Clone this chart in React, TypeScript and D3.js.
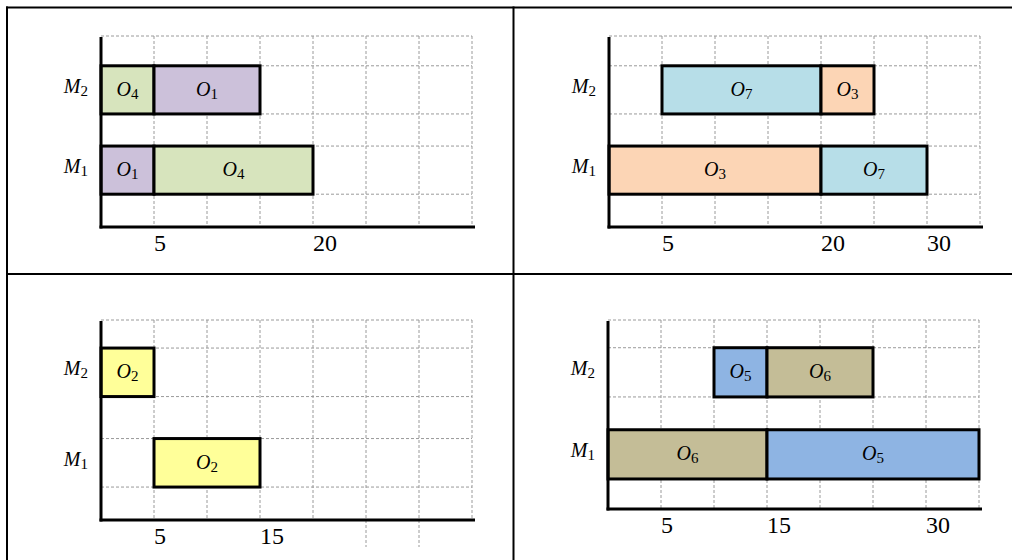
import React from "react";
import * as d3 from "d3";

// schedules, one per cell of the table
const machines = ["M2", "M1"];

const panel1Ops = [
  { machine: "M2", op: 4, start: 0, end: 5 },
  { machine: "M2", op: 1, start: 5, end: 15 },
  { machine: "M1", op: 1, start: 0, end: 5 },
  { machine: "M1", op: 4, start: 5, end: 20 },
];
const panel1Ticks = [5, 20];

const panel2Ops = [
  { machine: "M2", op: 7, start: 5, end: 20 },
  { machine: "M2", op: 3, start: 20, end: 25 },
  { machine: "M1", op: 3, start: 0, end: 20 },
  { machine: "M1", op: 7, start: 20, end: 30 },
];
const panel2Ticks = [5, 20, 30];

const panel3Ops = [
  { machine: "M2", op: 2, start: 0, end: 5 },
  { machine: "M1", op: 2, start: 5, end: 15 },
];
const panel3Ticks = [5, 15];
const panel3LongGrid = [25, 30];

const panel4Ops = [
  { machine: "M2", op: 5, start: 10, end: 15 },
  { machine: "M2", op: 6, start: 15, end: 25 },
  { machine: "M1", op: 6, start: 0, end: 15 },
  { machine: "M1", op: 5, start: 15, end: 35 },
];
const panel4Ticks = [5, 15, 30];

const timeDomain = [0, 35];

const opColors = {
  1: "#CCC1DA",
  2: "#FFFF99",
  3: "#FCD5B5",
  4: "#D7E4BD",
  5: "#8EB4E3",
  6: "#C4BD97",
  7: "#B7DEE8",
};

const FONT = "'Liberation Serif', 'Times New Roman', serif";
const GRID = "#9a9a9a";

function Sub({ base, sub, x, y, anchor, size = 20 }) {
  return (
    <text x={x} y={y} textAnchor={anchor} fontFamily={FONT} fontSize={size} fill="#000">
      <tspan fontStyle="italic">{base}</tspan>
      <tspan fontSize={size * 0.75} dy={3}>{sub}</tspan>
    </text>
  );
}

function Gantt({ ops, ticks, left, top, axisY, pi, po, align, longGrid = [] }) {
  const x = d3.scaleLinear().domain(timeDomain).range([left, left + 371]);
  const y = d3
    .scaleBand()
    .domain(machines)
    .range([top, axisY])
    .paddingInner(pi)
    .paddingOuter(po)
    .align(align);
  const gridX = x.ticks(7).filter(d => d > 0);
  const hLines = [top];
  machines.forEach(m => {
    hLines.push(y(m), y(m) + y.bandwidth());
  });

  return (
    <g>
      {/* dashed grid */}
      {gridX.map(v => (
        <line
          key={"v" + v}
          x1={x(v)}
          x2={x(v)}
          y1={top}
          y2={longGrid.includes(v) ? axisY + 27 : axisY}
          stroke={GRID}
          strokeWidth={1}
          strokeDasharray="3,2"
        />
      ))}
      {hLines.map((v, i) => (
        <line
          key={"h" + i}
          x1={left}
          x2={x(35)}
          y1={v}
          y2={v}
          stroke={GRID}
          strokeWidth={1}
          strokeDasharray="3,2"
        />
      ))}

      {/* operations */}
      {ops.map((d, i) => (
        <rect
          key={"r" + i}
          x={x(d.start)}
          y={y(d.machine)}
          width={x(d.end) - x(d.start)}
          height={y.bandwidth()}
          fill={opColors[d.op]}
          stroke="#000"
          strokeWidth={3}
        />
      ))}
      {ops.map((d, i) => (
        <Sub
          key={"t" + i}
          base="O"
          sub={String(d.op)}
          x={(x(d.start) + x(d.end)) / 2}
          y={y(d.machine) + y.bandwidth() / 2 + 6}
          anchor="middle"
        />
      ))}

      {/* axes */}
      <line x1={left} x2={left} y1={top + 1} y2={axisY + 1.5} stroke="#000" strokeWidth={3} />
      <line x1={left - 1.5} x2={x(35) + 3} y1={axisY} y2={axisY} stroke="#000" strokeWidth={3} />

      {machines.map(m => (
        <Sub
          key={m}
          base="M"
          sub={m.slice(1)}
          x={left - 13}
          y={y(m) + y.bandwidth() / 2 + 3}
          anchor="end"
        />
      ))}
      {ticks.map(t => (
        <text
          key={"k" + t}
          x={x(t)}
          y={axisY + 24}
          textAnchor="start"
          fontFamily={FONT}
          fontSize={24}
          fill="#000"
        >
          {t}
        </text>
      ))}
    </g>
  );
}

export default function App() {
  return (
    <div style={{ position: "absolute", left: 0, top: 0 }}>
      <svg width={1012} height={560} style={{ display: "block", background: "#fff" }}>
        {/* table rules */}
        <g stroke="#000" strokeWidth={2}>
          <line x1={6} x2={1012} y1={7.5} y2={7.5} />
          <line x1={7} x2={7} y1={6.5} y2={560} />
          <line x1={513.5} x2={513.5} y1={6.5} y2={560} />
          <line x1={6} x2={1012} y1={274} y2={274} />
        </g>
        <Gantt ops={panel1Ops} ticks={panel1Ticks} left={101} top={36} axisY={227} pi={0.4} po={0.39} align={0.476} />
        <Gantt ops={panel2Ops} ticks={panel2Ticks} left={609} top={36} axisY={227} pi={0.4} po={0.39} align={0.476} />
        <Gantt
          ops={panel3Ops}
          ticks={panel3Ticks}
          left={101}
          top={320}
          axisY={520}
          pi={0.464}
          po={0.337}
          align={0.46}
          longGrid={panel3LongGrid}
        />
        <Gantt ops={panel4Ops} ticks={panel4Ticks} left={608} top={320} axisY={509} pi={0.4} po={0.352} align={0.48} />
      </svg>
    </div>
  );
}
